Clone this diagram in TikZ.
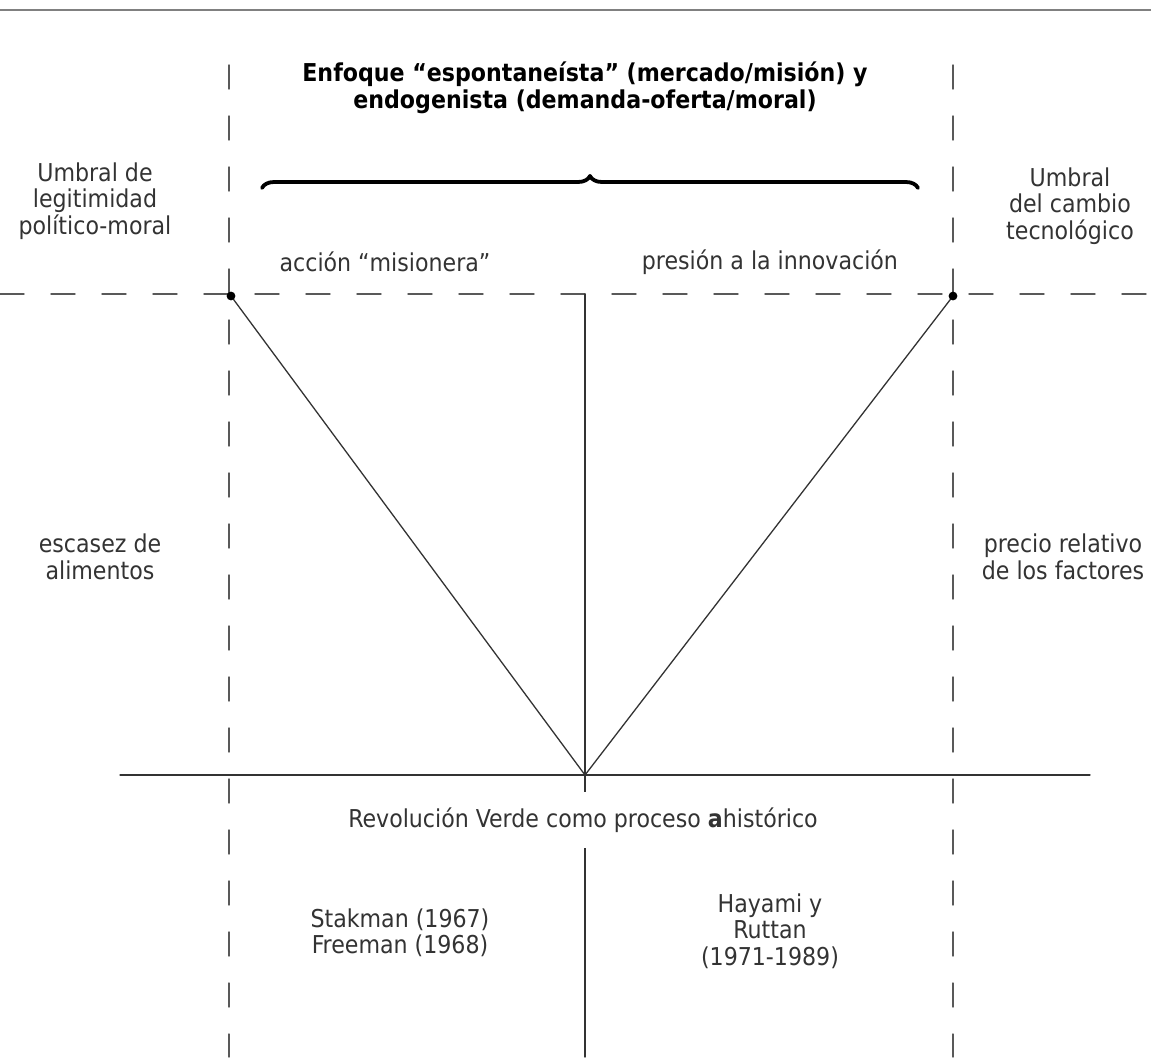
\documentclass[tikz,border=0pt]{standalone}
\usepackage{fontspec}
\setmainfont{DejaVu Sans Condensed}
\usetikzlibrary{positioning,decorations.pathreplacing}
\tikzset{
	lbl/.style={align=center, font=\fontsize{12.3}{13.2}\selectfont, text=black!80, inner sep=0pt},
	guia/.style={dashed, dash pattern=on 12pt off 13.5pt, draw=black!65, line width=0.7pt},
	eje/.style={draw=black!80, line width=0.65pt}
}
\begin{document}
\begin{tikzpicture}[x=0.5pt, y=-0.5pt, line join=round, line cap=round]
	\def\xl{229} \def\xr{953} \def\xc{585} % verticales
	\def\yu{294} \def\ya{775} \def\yb{1057} % umbral, eje, borde inferior
	\useasboundingbox (0,0) rectangle (1151,1057);
	\draw[black!50, line width=1.2pt] (0,10) -- (1151,10);
	\draw[guia] (\xl,65) -- (\xl,\yb) (\xr,65) -- (\xr,\yb);
	\draw[guia] (0,\yu) -- (1151,\yu);
	\coordinate (pl) at (\xl+2,\yu+2);
	\coordinate (pr) at (\xr,\yu+2);
	\coordinate (v) at (\xc,\ya);
	\coordinate (ct) at (\xc,\yu);
	\coordinate (cb) at (\xc,\yb);
	\coordinate (el) at (120,\ya);
	\coordinate (er) at (1090,\ya);
	\draw[eje] (ct) -- (cb) (el) -- (er);
	\draw[eje] (pl) -- (v) -- (pr);
	\fill (pl) circle (2.2pt) (pr) circle (2.2pt);
	\draw[line width=1.9pt, decorate, decoration={brace, amplitude=6pt}] (262,188) -- (918,188);
	% textos
	\node[lbl, font=\fontsize{12.3}{13.2}\selectfont\bfseries, text=black] (tit) at (585,88) {Enfoque “espontaneísta” (mercado/misión) y\\endogenista (demanda-oferta/moral)};
	\node[lbl] (ul) at (95,201) {Umbral de\\legitimidad\\político-moral};
	\node[lbl] (ur) at (1070,206) {Umbral\\del cambio\\tecnológico};
	\node[lbl] (am) at (385,262) {acción “misionera”};
	\node[lbl] (pi) at (770,262) {presión a la innovación};
	\node[lbl] (ea) at (100,557) {escasez de\\alimentos};
	\node[lbl] (pf) at (1063,557) {precio relativo\\de los factores};
	\node[lbl, fill=white, inner ysep=8pt, inner xsep=2pt] (rv) at (583,820) {Revolución Verde como proceso \textbf{a}histórico};
	\node[lbl] (sf) at (400,933) {Stakman (1967)\\Freeman (1968)};
	\node[lbl] (hr) at (770,931) {Hayami y\\Ruttan\\(1971-1989)};
\end{tikzpicture}
\end{document}
